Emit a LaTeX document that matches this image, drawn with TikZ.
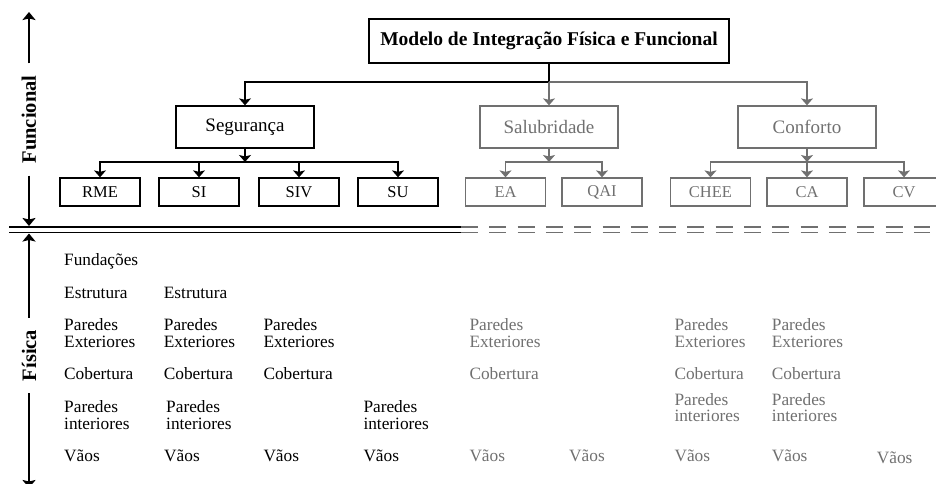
\documentclass[tikz,border=0pt]{standalone}
\usepackage{fontspec}
\setmainfont{Liberation Serif}
\usetikzlibrary{arrows.meta}
\definecolor{fade}{RGB}{112,112,112}
\newcommand{\duo}[2]{\vtop{\hbox{#1}\hbox{#2}}}
\tikzset{
  tip/.style={-{Stealth[length=7pt,width=12pt,inset=1.5pt]}},
  link/.style={line width=1.3pt, tip},
  plain/.style={line width=1.3pt},
  axisarrow/.style={line width=2pt, -{Stealth[length=8pt,width=13pt,inset=1.5pt]}},
  topbox/.style={draw, line width=2.2pt, minimum width=360pt, minimum height=44pt,
    inner sep=0pt, font=\fontsize{19.5}{22}\selectfont\bfseries},
  groupbox/.style={draw, line width=1.3pt, minimum width=138pt, minimum height=42pt,
    inner sep=0pt, font=\fontsize{19}{22}\selectfont},
  leafbox/.style={draw, line width=1.3pt, minimum width=80pt, minimum height=28pt,
    inner sep=0pt, font=\fontsize{16.5}{19}\selectfont},
  phys/.style={anchor=base west, inner sep=0pt, font=\fontsize{17.3}{16.5}\selectfont},
  axislabel/.style={rotate=90, inner xsep=12pt, inner ysep=0pt, font=\fontsize{20.5}{24}\selectfont\bfseries},
  faded/.style={draw=fade, text=fade, color=fade},
}
\begin{document}
\begin{tikzpicture}[x=1pt, y=-1pt]
\useasboundingbox (0,0) rectangle (936,483);

% --- functional hierarchy ---
\node[topbox] (top) at (549,41) {Modelo de Integração Física e Funcional};

\node[groupbox] (seg) at (245,127) {Segurança};
\node[groupbox, faded] (sal) at (549,127) {Salubridade};
\node[groupbox, faded] (con) at (807,127) {Conforto};

\node[leafbox] (rme) at (100,192) {RME};
\node[leafbox] (si)  at (199,192) {SI};
\node[leafbox] (siv) at (299,192) {SIV};
\node[leafbox] (su)  at (398,192) {SU};
\node[leafbox, faded] (ea)  at (505.5,192) {EA};
\node[leafbox, faded] (qai) at (602,192) {QAI};
\node[leafbox, faded] (chee) at (710.5,192) {CHEE};
\node[leafbox, faded] (ca)  at (807,192) {CA};
\node[leafbox, faded] (cv)  at (904,192) {CV};

\coordinate (j0) at (549,82);
\coordinate (js) at (245,162);
\coordinate (jh) at (549,162);
\coordinate (jc) at (807,162);

\draw[plain] (top.south) -- (j0);
\draw[link] (j0) -| (seg.north);
\draw[link, fade] (j0) -- (sal.north);
\draw[link, fade] (j0) -| (con.north);

\draw[link] (seg.south) -- (js);
\draw[link] (js) -| (rme.north);
\draw[link] (js) -| (si.north);
\draw[link] (js) -| (siv.north);
\draw[link] (js) -| (su.north);

\draw[link, fade] (sal.south) -- (jh);
\draw[link, fade] (jh) -| (ea.north);
\draw[link, fade] (jh) -| (qai.north);

\draw[link, fade] (con.south) -- (jc);
\draw[link, fade] (jc) -| (chee.north);
\draw[link, fade] (jc) -- (ca.north);
\draw[link, fade] (jc) -| (cv.north);

% --- separator between the two levels ---
\draw[line width=2.2pt] (9,227) -- (461,227);
\draw[line width=1.6pt] (9,232.3) -- (461,232.3);
\draw[line width=2.2pt, fade, dash pattern=on 17pt off 11.3pt] (461,227) -- (930,227);
\draw[line width=1.6pt, fade, dash pattern=on 17pt off 11.3pt] (461,232.3) -- (930,232.3);

% --- axis labels ---
\node[axislabel] (fun) at (29,119.5) {Funcional};
\coordinate (funtop) at (29,12);
\coordinate (funbot) at (29,226);
\draw[axisarrow] (fun.east) -- (funtop);
\draw[axisarrow] (fun.west) -- (funbot);

\node[axislabel] (fis) at (29,355.5) {Física};
\coordinate (fistop) at (29,233.5);
\coordinate (fisbot) at (29,488);
\draw[axisarrow] (fis.east) -- (fistop);
\draw[axisarrow] (fis.west) -- (fisbot);

% --- physical elements per requirement ---
\node[phys] (a1) at (64,265) {Fundações};
\node[phys] (a2) at (64,298) {Estrutura};
\node[phys] (a3) at (64,330.7) {\duo{Paredes}{Exteriores}};
\node[phys] (a4) at (64,379.3) {Cobertura};
\node[phys] (a5) at (64,412.7) {\duo{Paredes}{interiores}};
\node[phys] (a6) at (64,461.7) {Vãos};

\node[phys] (b2) at (163.7,298) {Estrutura};
\node[phys] (b3) at (163.7,330.7) {\duo{Paredes}{Exteriores}};
\node[phys] (b4) at (163.7,379.3) {Cobertura};
\node[phys] (b5) at (166,412.7) {\duo{Paredes}{interiores}};
\node[phys] (b6) at (164,461.7) {Vãos};

\node[phys] (c3) at (263.3,330.7) {\duo{Paredes}{Exteriores}};
\node[phys] (c4) at (263.3,379.3) {Cobertura};
\node[phys] (c6) at (263.3,461.7) {Vãos};

\node[phys] (d5) at (363.3,412.7) {\duo{Paredes}{interiores}};
\node[phys] (d6) at (363.3,461.7) {Vãos};

\node[phys, fade] (e3) at (469.3,330.5) {\duo{Paredes}{Exteriores}};
\node[phys, fade] (e4) at (469.3,379.2) {Cobertura};
\node[phys, fade] (e6) at (469.3,461.7) {Vãos};

\node[phys, fade] (f6) at (569,461.7) {Vãos};

\node[phys, fade] (g3) at (674.3,330.5) {\duo{Paredes}{Exteriores}};
\node[phys, fade] (g4) at (674.3,379.2) {Cobertura};
\node[phys, fade] (g5) at (674.3,405) {\duo{Paredes}{interiores}};
\node[phys, fade] (g6) at (674.3,461.7) {Vãos};

\node[phys, fade] (h3) at (771.7,330.5) {\duo{Paredes}{Exteriores}};
\node[phys, fade] (h4) at (771.7,379.2) {Cobertura};
\node[phys, fade] (h5) at (771.7,405) {\duo{Paredes}{interiores}};
\node[phys, fade] (h6) at (771.7,461.7) {Vãos};

\node[phys, fade] (k6) at (876.7,463) {Vãos};
\end{tikzpicture}
\end{document}
